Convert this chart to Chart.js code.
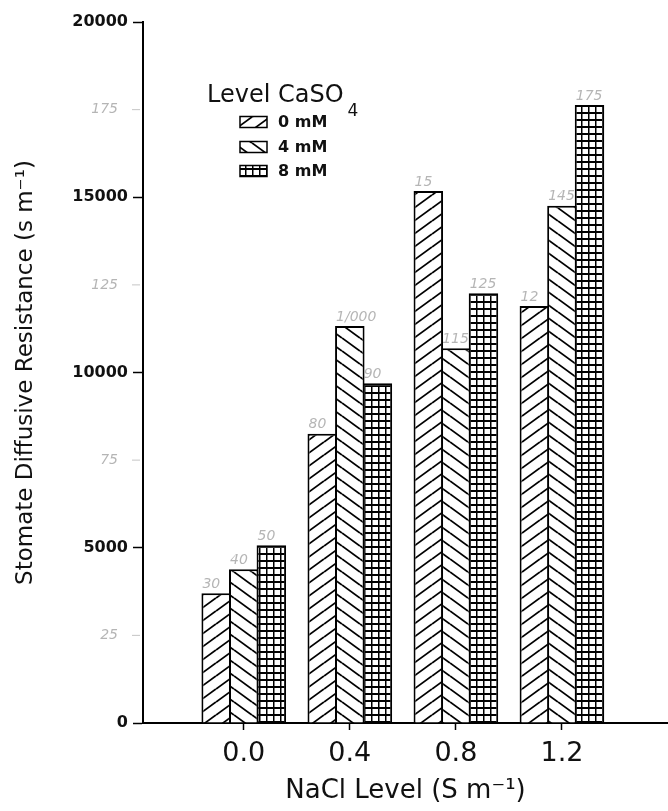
<!DOCTYPE html>
<html>
<head>
<meta charset="utf-8">
<script src="https://cdn.jsdelivr.net/npm/chart.js@4/dist/chart.umd.min.js"></script>
<style>
  html, body { margin: 0; padding: 0; background: #fff; }
  #wrap { width: 668px; height: 811px; }
</style>
</head>
<body>
<div id="wrap"><canvas id="chart" width="668" height="811"></canvas></div>
<script>
// NaCl levels (S m-1) and the three CaSO4 treatments
const categories = [0.0, 0.4, 0.8, 1.2];
const seriesLabels = ['0 mM', '4 mM', '8 mM'];
const vals0 = [3700, 8250, 15180, 11900];
const vals4 = [4390, 11330, 10690, 14760];
const vals8 = [5070, 9690, 12260, 17630];
const yTicks = [0, 5000, 10000, 15000, 20000];

// pencil notes written on the scan above each bar, and beside the axis
const notes0 = ['30', '80', '15', '12'];
const notes4 = ['40', '1/000', '115', '145'];
const notes8 = ['50', '90', '125', '175'];
const pencilAxis = [25, 75, 125, 175];

const FONT = "'DejaVu Sans', 'Liberation Sans', sans-serif";

function makePattern(kind) {
    const c = document.createElement('canvas');
    const g = c.getContext('2d');
    if (kind === 'grid') {
        c.width = 7; c.height = 7;
        g.fillStyle = '#fff';
        g.fillRect(0, 0, 7, 7);
        g.fillStyle = '#000';
        g.fillRect(0, 0, 7, 2);   // horizontal line
        g.fillRect(0, 0, 1.5, 7); // vertical line
    } else {
        const W = 18, H = 13;
        c.width = W; c.height = H;
        g.fillStyle = '#fff';
        g.fillRect(0, 0, W, H);
        g.strokeStyle = '#000';
        g.lineWidth = 1.8;
        for (let k = -1; k <= 1; k++) {
            g.beginPath();
            if (kind === 'fwd') {
                g.moveTo(0, H + k * H);
                g.lineTo(W, k * H);
            } else {
                g.moveTo(0, k * H);
                g.lineTo(W, H + k * H);
            }
            g.stroke();
        }
    }
    return g.createPattern(c, 'repeat');
}

const ctx = document.getElementById('chart').getContext('2d');
const patterns = [makePattern('fwd'), makePattern('back'), makePattern('grid')];
const allVals = [vals0, vals4, vals8];
const allNotes = [notes0, notes4, notes8];

// bars slightly wider than their slot so neighbours share one edge line
const datasets = allVals.map((vals, i) => ({
    label: seriesLabels[i],
    data: categories.map((c, j) => ({ x: c, y: vals[j] })),
    backgroundColor: patterns[i],
    borderColor: '#000',
    borderWidth: 2,
    borderSkipped: 'start',
    categoryPercentage: 0.78,
    barPercentage: 1.07
}));

// legend + pencil notes, drawn on top of the chart
const extras = {
    id: 'extras',
    afterDatasetsDraw(chart) {
        const c = chart.ctx;
        const y = chart.scales.y;
        c.save();

        // pencil notes above the bars
        c.fillStyle = 'rgba(90,90,90,0.45)';
        c.font = 'italic 14px ' + FONT;
        c.textAlign = 'left';
        c.textBaseline = 'bottom';
        chart.data.datasets.forEach((ds, i) => {
            chart.getDatasetMeta(i).data.forEach((bar, j) => {
                c.fillText(allNotes[i][j], bar.x - bar.width / 2 + 1, bar.y - 2);
            });
        });

        // pencil marks beside the y axis
        c.strokeStyle = 'rgba(90,90,90,0.35)';
        c.lineWidth = 1;
        c.textAlign = 'right';
        c.textBaseline = 'middle';
        pencilAxis.forEach(v => {
            const py = y.getPixelForValue(v * 100);
            c.beginPath();
            c.moveTo(132, py);
            c.lineTo(140, py);
            c.stroke();
            c.fillText(String(v), 118, py);
        });

        // legend title "Level CaSO4"
        c.fillStyle = '#111';
        c.textAlign = 'left';
        c.textBaseline = 'alphabetic';
        c.font = '24px ' + FONT;
        c.fillText('Level CaSO', 207, 102);
        const tw = c.measureText('Level CaSO').width;
        c.font = '17px ' + FONT;
        c.fillText('4', 207 + tw + 4, 116);

        // legend entries
        const rows = [122, 147, 171];
        c.font = 'bold 16px ' + FONT;
        c.textBaseline = 'middle';
        chart.data.datasets.forEach((ds, i) => {
            c.fillStyle = ds.backgroundColor;
            c.fillRect(240, rows[i] - 5.5, 27, 11);
            c.strokeStyle = '#000';
            c.lineWidth = 1.5;
            c.strokeRect(240, rows[i] - 5.5, 27, 11);
            c.fillStyle = '#111';
            c.fillText(ds.label, 278, rows[i] + 1);
        });
        c.restore();
    }
};

new Chart(ctx, {
    type: 'bar',
    data: { datasets },
    plugins: [extras],
    options: {
        responsive: false,
        animation: false,
        layout: { padding: { top: 22, right: 0, bottom: 0, left: 0 } },
        plugins: {
            legend: { display: false },
            tooltip: { enabled: false }
        },
        scales: {
            x: {
                type: 'linear',
                min: -0.38,
                max: 1.6,
                offset: false,
                afterBuildTicks: s => { s.ticks = categories.map(v => ({ value: v })); },
                afterFit: s => { s.height = 88; },
                ticks: {
                    callback: v => v.toFixed(1),
                    font: { family: FONT, size: 27 },
                    color: '#111',
                    padding: 8,
                    autoSkip: false,
                    maxRotation: 0
                },
                grid: { offset: false, drawOnChartArea: false, drawTicks: true, tickLength: 7, tickColor: '#000', tickWidth: 1.5 },
                border: { display: true, color: '#000', width: 2 },
                title: {
                    display: true,
                    text: 'NaCl Level (S m\u207B\u00B9)',
                    font: { family: FONT, size: 26 },
                    color: '#111',
                    padding: { top: 0, bottom: 4 }
                }
            },
            y: {
                min: 0,
                max: 20000,
                afterBuildTicks: s => { s.ticks = yTicks.map(v => ({ value: v })); },
                afterFit: s => { s.width = 143; },
                ticks: {
                    callback: v => String(v),
                    font: { family: FONT, size: 16, weight: 'bold' },
                    color: '#111',
                    padding: 5
                },
                grid: { drawOnChartArea: false, drawTicks: true, tickLength: 10, tickColor: '#000', tickWidth: 1.5 },
                border: { display: true, color: '#000', width: 2 },
                title: {
                    display: true,
                    text: 'Stomate Diffusive Resistance (s m\u207B\u00B9)',
                    font: { family: FONT, size: 23 },
                    color: '#111',
                    padding: { top: 12, bottom: 0 }
                }
            }
        }
    }
});
</script>
</body>
</html>
